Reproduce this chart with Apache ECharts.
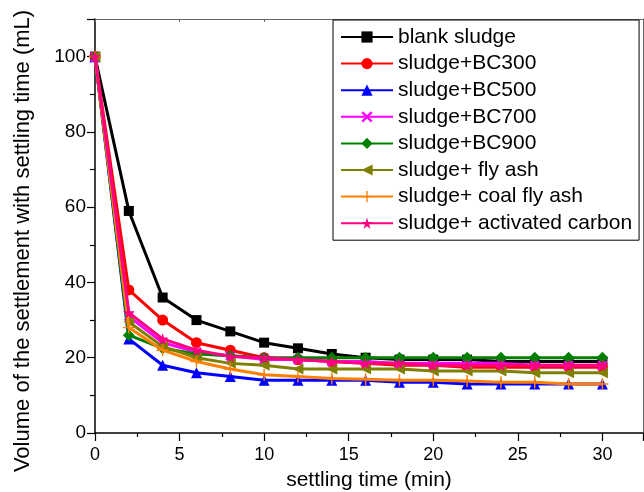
<!DOCTYPE html>
<html>
<head>
<meta charset="utf-8">
<script src="https://cdn.jsdelivr.net/npm/echarts@6/dist/echarts.min.js"></script>
<style>html,body{margin:0;padding:0;background:#fff;}#c{width:644px;height:492px;}</style>
</head>
<body>
<div id="c"></div>
<script>
const times = [0, 2, 4, 6, 8, 10, 12, 14, 16, 18, 20, 22, 24, 26, 28, 30];
const seriesNames = ['blank sludge', 'sludge+BC300', 'sludge+BC500', 'sludge+BC700', 'sludge+BC900', 'sludge+ fly ash', 'sludge+ coal fly ash', 'sludge+ activated carbon'];
const blank = [100, 59, 36, 30, 27, 24, 22.5, 21, 20, 19.5, 19.5, 19.5, 19, 19, 19, 19];
const bc300 = [100, 38, 30, 24, 22, 20, 19.5, 19, 18.5, 18, 18, 17.5, 17.5, 17.5, 17.5, 17.5];
const bc500 = [100, 25, 18, 16, 15, 14, 14, 14, 14, 13.5, 13.5, 13, 13, 13, 13, 13];
const bc700 = [100, 31, 24, 21.5, 20.5, 19.5, 19.5, 19, 19, 18.5, 18.5, 18.5, 18.5, 18, 18, 18];
const bc900 = [100, 26, 22.5, 21, 20.5, 20, 20, 20, 20, 20, 20, 20, 20, 20, 20, 20];
const flyAsh = [100, 29.5, 23, 20, 18.5, 18, 17, 17, 17, 17, 16.5, 16.5, 16.5, 16, 16, 16];
const coalFlyAsh = [100, 28, 22, 19, 17, 15.5, 15, 14.5, 14.3, 14, 14, 13.8, 13.5, 13.5, 13, 13];
const activatedCarbon = [100, 32, 25, 22, 20.3, 20, 19.5, 19, 18.5, 18.5, 18, 18, 18, 18, 18, 18];
const xTickLabels = ['0', '5', '10', '15', '20', '25', '30'];
const yTickLabels = ['0', '20', '40', '60', '80', '100'];

const allValues = [blank, bc300, bc500, bc700, bc900, flyAsh, coalFlyAsh, activatedCarbon];
const colors = ['#000000', '#FF0000', '#0000FF', '#FF00FF', '#008000', '#808000', '#FF8000', '#FF0080'];
const symbols = [
  'rect', 'circle', 'triangle',
  'path://M0,1.5L1.5,0L10,8.5L8.5,10Z M8.5,0L10,1.5L1.5,10L0,8.5Z',
  'diamond',
  'path://M0,5L10,0L10,10Z',
  'path://M4.4,0H5.6V10H4.4Z M0,4.4H10V5.6H0Z',
  'path://M50,0L61,35L98,35L68,57L79,91L50,70L21,91L32,57L2,35L39,35Z'
];
const sizes = [10, 11, 11, 10, 12, 11, 12, 12];
const FONT = 'Liberation Sans, Arial, sans-serif';

const series = allValues.map((vals, i) => ({
  name: seriesNames[i],
  type: 'line',
  data: times.map((t, j) => [t, vals[j]]),
  symbol: symbols[i],
  symbolSize: sizes[i],
  showAllSymbol: true,
  lineStyle: { color: colors[i], width: 3 },
  itemStyle: { color: colors[i] },
  emphasis: { disabled: true },
  animation: false,
  z: 2 + i
}));

const chart = echarts.init(document.getElementById('c'));
chart.setOption({
  animation: false,
  grid: { left: 95, top: 19, right: 1, bottom: 59, containLabel: false, outerBoundsMode: 'none' },
  legend: {
    orient: 'vertical',
    left: 333,
    top: 20,
    padding: [6, 7, 6, 7],
    itemGap: 4.6,
    itemWidth: 52,
    itemHeight: 14,
    borderColor: '#000',
    borderWidth: 1,
    backgroundColor: '#fff',
    textStyle: { fontFamily: FONT, fontSize: 21, color: '#000', lineHeight: 22 },
    data: seriesNames
  },
  xAxis: [{
    type: 'value',
    min: 0, max: 32.4, interval: 5,
    name: 'settling time (min)',
    nameLocation: 'middle',
    nameGap: 37,
    nameTextStyle: { fontFamily: FONT, fontSize: 21, color: '#000' },
    axisLine: { show: true, onZero: false, lineStyle: { color: '#000', width: 1.5 } },
    axisTick: { show: true, inside: false, length: 8, lineStyle: { color: '#000', width: 1.2 } },
    minorTick: { show: true, splitNumber: 2, length: 4, lineStyle: { color: '#000', width: 1.2 } },
    axisLabel: { fontFamily: FONT, fontSize: 18, color: '#000', margin: 13,
      formatter: v => { const s = String(v); return xTickLabels.indexOf(s) >= 0 ? s : ''; } },
    splitLine: { show: false }
  }, {
    type: 'value',
    position: 'top',
    min: 0, max: 32.4, interval: 5,
    axisLine: { show: true, onZero: false, lineStyle: { color: '#666', width: 1 } },
    axisTick: { show: true, inside: true, length: 3, lineStyle: { color: '#666', width: 1 } },
    axisLabel: { show: false },
    splitLine: { show: false }
  }],
  yAxis: [{
    type: 'value',
    min: 0, max: 110, interval: 20,
    name: 'Volume of the settlement with settling time (mL)',
    nameLocation: 'middle',
    nameGap: 61,
    nameTextStyle: { fontFamily: FONT, fontSize: 22, color: '#000', padding: [0, 30, 0, 0] },
    axisLine: { show: true, onZero: false, lineStyle: { color: '#000', width: 1.5 } },
    axisTick: { show: true, inside: false, length: 8, lineStyle: { color: '#000', width: 1.2 } },
    minorTick: { show: true, splitNumber: 2, length: 5, lineStyle: { color: '#000', width: 1.2 } },
    axisLabel: { fontFamily: FONT, fontSize: 19, color: '#000', margin: 9,
      formatter: v => { const s = String(v); return yTickLabels.indexOf(s) >= 0 ? s : ''; } },
    splitLine: { show: false }
  }, {
    type: 'value',
    position: 'right',
    min: 0, max: 110, interval: 20,
    axisLine: { show: true, onZero: false, lineStyle: { color: '#666', width: 1 } },
    axisTick: { show: false },
    axisLabel: { show: false },
    splitLine: { show: false }
  }],
  series: series
});
</script>
</body>
</html>
